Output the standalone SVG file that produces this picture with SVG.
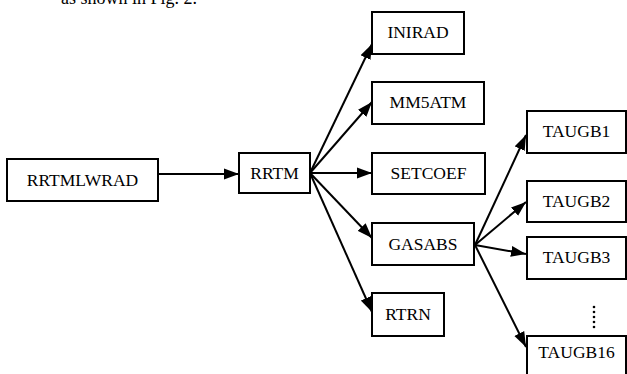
<svg xmlns="http://www.w3.org/2000/svg" width="627" height="374" viewBox="0 0 627 374">
<style>
.box{fill:#fff;stroke:#000;stroke-width:2}
.lbl{font-size:17.5px;fill:#000;text-anchor:middle}
.edge{stroke:#000;stroke-width:2;fill:none;marker-end:url(#ah)}
</style>
<defs>
<marker id="ah" markerUnits="userSpaceOnUse" markerWidth="16" markerHeight="12" refX="15" refY="6" orient="auto">
<path d="M0,0.5 L15,6 L0,11.5 z" fill="#000"/>
</marker>
</defs>
<rect width="627" height="374" fill="#fff"/>
<g font-family="'Liberation Serif', 'Times New Roman', serif">
<text x="197" y="4" font-size="18" text-anchor="end">as shown in Fig. 2.</text>
<g id="connectors">
<line class="edge" x1="158" y1="174" x2="239" y2="174"/>
<line class="edge" x1="310" y1="173" x2="372" y2="44"/>
<line class="edge" x1="310" y1="173" x2="372" y2="102"/>
<line class="edge" x1="310" y1="173" x2="372" y2="173"/>
<line class="edge" x1="310" y1="173" x2="372" y2="238"/>
<line class="edge" x1="310" y1="173" x2="372" y2="312"/>
<line class="edge" x1="475" y1="245" x2="526" y2="135"/>
<line class="edge" x1="475" y1="245" x2="526" y2="202"/>
<line class="edge" x1="475" y1="245" x2="526" y2="254"/>
<line class="edge" x1="475" y1="245" x2="526" y2="347"/>
</g>
<g id="RRTMLWRAD"><rect class="box" x="7" y="159" width="151" height="42"/><text class="lbl" x="82.5" y="186">RRTMLWRAD</text></g>
<g id="RRTM"><rect class="box" x="239" y="153" width="71" height="40"/><text class="lbl" x="274.5" y="179">RRTM</text></g>
<g id="INIRAD"><rect class="box" x="372" y="12" width="92" height="42"/><text class="lbl" x="418" y="38">INIRAD</text></g>
<g id="MM5ATM"><rect class="box" x="372" y="82" width="112" height="42"/><text class="lbl" x="428" y="108">MM5ATM</text></g>
<g id="SETCOEF"><rect class="box" x="372" y="153" width="113" height="41"/><text class="lbl" x="428.5" y="179">SETCOEF</text></g>
<g id="GASABS"><rect class="box" x="372" y="223" width="102" height="42"/><text class="lbl" x="423" y="250">GASABS</text></g>
<g id="RTRN"><rect class="box" x="372" y="293" width="72" height="43"/><text class="lbl" x="408" y="320">RTRN</text></g>
<g id="TAUGB1"><rect class="box" x="527" y="111" width="99" height="42"/><text class="lbl" x="576.5" y="137">TAUGB1</text></g>
<g id="TAUGB2"><rect class="box" x="527" y="181" width="99" height="41"/><text class="lbl" x="576.5" y="207">TAUGB2</text></g>
<g id="TAUGB3"><rect class="box" x="527" y="237" width="99" height="42"/><text class="lbl" x="576.5" y="263">TAUGB3</text></g>
<g id="ellipsis" fill="#000"><circle cx="594" cy="307" r="1.3"/><circle cx="594" cy="312" r="1.3"/><circle cx="594" cy="317" r="1.3"/><circle cx="594" cy="322" r="1.3"/><circle cx="594" cy="327" r="1.3"/></g>
<g id="TAUGB16"><rect class="box" x="527" y="336" width="99" height="44"/><text class="lbl" x="576.5" y="358">TAUGB16</text></g>
</g>
</svg>
